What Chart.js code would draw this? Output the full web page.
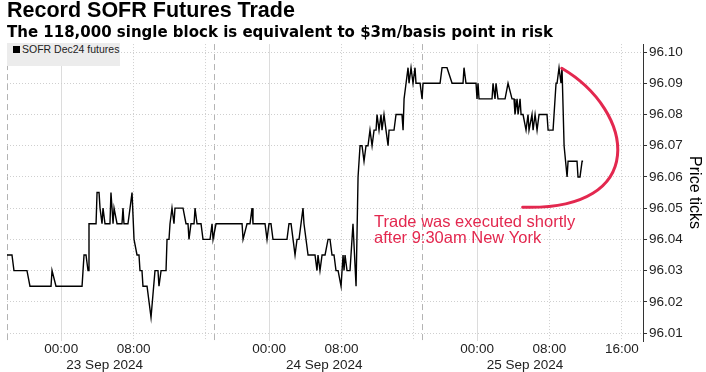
<!DOCTYPE html>
<html lang="en">
<head>
<meta charset="UTF-8">
<title>Record SOFR Futures Trade</title>
<script src="https://cdn.jsdelivr.net/npm/chart.js"></script>
<style>
    html, body { margin: 0; padding: 0; background: #fff; }
    #wrap { position: relative; width: 706px; height: 372px; }
    #legend {
        position: absolute; left: 7px; top: 43px; width: 113px; height: 23px;
        background: #ececec; color: #222; line-height: 23px;
        font: 10.5px "Liberation Sans", Arial, sans-serif;
    }
    #legend .box { display: inline-block; width: 7px; height: 7px; background: #000; margin: 0 2px 0 6px; }
</style>
</head>
<body>
<div id="wrap">
    <canvas id="chart" width="706" height="372"></canvas>
    <div id="legend"><span class="box"></span>SOFR Dec24 futures</div>
</div>
<script>
    // x = trading hours since 22 Sep 18:00 New York (daily 17:00-18:00 break removed)
    const hours = [
        0, 0.55, 0.77, 2.21, 2.54, 4.87, 4.98, 5.42, 8.30, 8.52, 8.74, 8.96, 9.07, 9.85, 9.96, 10.18,
        10.29, 10.51, 10.62, 10.84, 11.39, 11.50, 11.73, 11.84, 12.17, 12.72, 12.83, 12.94, 13.38, 13.61,
        13.83, 14.05, 14.38, 14.60, 14.71, 14.93, 15.04, 15.49, 15.93, 16.37, 16.70, 16.81, 17.04, 17.59,
        17.70, 17.92, 18.03, 18.25, 18.47, 18.58, 19.47, 19.80, 20.02, 20.13, 20.35, 20.69, 20.80, 21.02,
        21.46, 21.68, 22.46, 22.68, 22.79, 23.12,
        26.00, 26.11, 26.55, 26.88, 27.10, 27.21, 28.54, 28.76, 28.98, 29.20, 29.42, 30.97, 31.19, 31.42,
        31.64, 31.86, 32.08, 32.30, 32.74, 32.85, 33.30, 34.07, 34.29, 34.40, 34.62, 34.85, 35.18, 35.51,
        35.73, 35.95, 36.17, 36.39, 36.62, 36.95, 37.17, 37.28, 37.39, 37.61, 37.94, 38.27, 38.61, 38.83,
        39.05, 39.27, 39.49, 39.71, 39.93, 40.15, 40.38, 40.60, 40.82, 40.93, 41.15, 41.37, 41.48, 41.70,
        41.92, 42.15, 42.26, 42.81, 43.03, 43.69, 43.81, 43.92, 44.14, 44.36, 44.47, 44.69, 44.91, 45.13,
        45.24, 45.69, 45.91,
        46.02, 47.90, 48.12, 48.67, 49.23, 50.44, 50.55, 50.77, 51.88, 51.99, 52.10, 52.21, 53.65, 53.76,
        53.98, 54.09, 54.31, 55.09, 55.42, 55.86, 56.08, 56.19, 56.42, 56.53, 56.75, 56.86, 57.08, 57.41,
        57.63, 57.74, 58.07, 58.19, 58.41, 58.63, 58.85, 59.73, 59.85, 60.40, 60.73, 60.84, 61.06, 61.28,
        61.39, 61.62, 61.95, 62.06, 63.05, 63.16, 63.38, 63.61, 63.72
    ];
    const prices = [
        96.035, 96.035, 96.03, 96.03, 96.025, 96.025, 96.03, 96.025, 96.025, 96.035, 96.035, 96.03, 96.045, 96.045, 96.055, 96.055,
        96.05, 96.045, 96.05, 96.045, 96.045, 96.055, 96.045, 96.05, 96.045, 96.045, 96.05, 96.045, 96.045, 96.05,
        96.055, 96.04, 96.035, 96.035, 96.03, 96.03, 96.025, 96.025, 96.015, 96.03, 96.03, 96.025, 96.03, 96.03,
        96.04, 96.04, 96.045, 96.05, 96.045, 96.05, 96.05, 96.045, 96.045, 96.04, 96.045, 96.045, 96.05, 96.045,
        96.045, 96.04, 96.04, 96.045, 96.04, 96.045,
        96.045, 96.04, 96.045, 96.045, 96.05, 96.045, 96.045, 96.04, 96.045, 96.045, 96.04, 96.04, 96.045, 96.045,
        96.04, 96.035, 96.04, 96.04, 96.05, 96.045, 96.035, 96.035, 96.03, 96.035, 96.03, 96.035, 96.035, 96.04,
        96.04, 96.035, 96.035, 96.03, 96.03, 96.025, 96.035, 96.03, 96.035, 96.03, 96.03, 96.045, 96.025, 96.06,
        96.07, 96.07, 96.065, 96.07, 96.07, 96.075, 96.07, 96.075, 96.075, 96.08, 96.075, 96.08, 96.075, 96.08,
        96.075, 96.07, 96.075, 96.075, 96.08, 96.08, 96.075, 96.085, 96.09, 96.095, 96.09, 96.095, 96.09, 96.095,
        96.09, 96.09, 96.085,
        96.09, 96.09, 96.095, 96.095, 96.09, 96.09, 96.095, 96.09, 96.09, 96.085, 96.09, 96.085, 96.085, 96.09,
        96.085, 96.09, 96.085, 96.085, 96.09, 96.085, 96.085, 96.08, 96.085, 96.08, 96.085, 96.08, 96.08, 96.075,
        96.08, 96.075, 96.08, 96.075, 96.08, 96.075, 96.08, 96.08, 96.075, 96.075, 96.09, 96.09, 96.095, 96.09,
        96.095, 96.07, 96.06, 96.065, 96.065, 96.06, 96.06, 96.065, 96.065
    ];

    // axes
    const tickHours = [0, 6, 14, 22, 23, 29, 37, 45, 46, 52, 60, 68];
    const tickLabels = ['', '00:00', '08:00', '', '', '00:00', '08:00', '', '', '00:00', '08:00', '16:00'];
    const sessionBreaks = [0, 23, 46];
    const dateHours = [10.8, 35.1, 57.3];
    const dateLabels = ['23 Sep 2024', '24 Sep 2024', '25 Sep 2024'];
    const priceTicks = [96.01, 96.015, 96.02, 96.025, 96.03, 96.035, 96.04, 96.045, 96.05, 96.055,
                        96.06, 96.065, 96.07, 96.075, 96.08, 96.085, 96.09, 96.095, 96.10];

    const RED = '#e3284f';
    Chart.defaults.font.family = '"Liberation Sans", Arial, sans-serif';

    function gridKind(value) {
        if (sessionBreaks.includes(value)) return 'break';
        if (tickLabels[tickHours.indexOf(value)] === '00:00') return 'midnight';
        return 'other';
    }

    // red bracket and note round the trade
    const callout = {
        id: 'callout',
        afterDatasetsDraw(chart) {
            const {ctx, scales: {x, y}} = chart;
            ctx.save();
            ctx.strokeStyle = RED;
            ctx.lineWidth = 3;
            ctx.lineCap = 'round';
            ctx.beginPath();
            ctx.moveTo(x.getPixelForValue(61.36), y.getPixelForValue(96.0948));
            ctx.bezierCurveTo(
                x.getPixelForValue(69.47), y.getPixelForValue(96.0811),
                x.getPixelForValue(71.13), y.getPixelForValue(96.0490),
                x.getPixelForValue(57.04), y.getPixelForValue(96.0503));
            ctx.stroke();
            ctx.fillStyle = RED;
            ctx.font = '16.5px "Liberation Sans", Arial, sans-serif';
            ctx.textBaseline = 'alphabetic';
            ctx.fillText('Trade was executed shortly', x.getPixelForValue(40.6), y.getPixelForValue(96.0439));
            ctx.fillText('after 9:30am New York', x.getPixelForValue(40.6), y.getPixelForValue(96.0389));
            ctx.restore();
        }
    };

    new Chart(document.getElementById('chart'), {
        type: 'line',
        data: {
            datasets: [{
                label: 'SOFR Dec24 futures',
                data: hours.map((h, i) => ({x: h, y: prices[i]})),
                borderColor: '#000',
                borderWidth: 1.4,
                pointRadius: 0,
                tension: 0
            }]
        },
        options: {
            responsive: false,
            animation: false,
            layout: {padding: {left: 7, right: 2, top: 0, bottom: 0}},
            plugins: {
                legend: {display: false},
                tooltip: {enabled: false},
                title: {
                    display: true,
                    text: 'Record SOFR Futures Trade',
                    align: 'start',
                    color: '#000',
                    font: {size: 21.5, weight: 'bold', lineHeight: 1.05},
                    padding: {top: 0, bottom: 2}
                },
                subtitle: {
                    display: true,
                    text: 'The 118,000 single block is equivalent to $3m/basis point in risk',
                    align: 'start',
                    color: '#000',
                    font: {family: '"DejaVu Sans", sans-serif', size: 15, weight: 'bold', lineHeight: 1.1},
                    padding: {top: 0, bottom: 3}
                }
            },
            scales: {
                x: {
                    type: 'linear',
                    min: 0,
                    max: 70.35,
                    afterBuildTicks: s => { s.ticks = tickHours.map(v => ({value: v})); },
                    ticks: {
                        autoSkip: false,
                        maxRotation: 0,
                        padding: 2,
                        color: '#222',
                        font: {size: 13.5, lineHeight: 1},
                        callback: (v, i) => tickLabels[i]
                    },
                    grid: {
                        drawTicks: false,
                        lineWidth: 1,
                        color: c => {
                            const k = gridKind(c.tick.value);
                            return k === 'break' ? '#b4b4b4' : k === 'midnight' ? '#dcdcdc' : '#cfcfcf';
                        }
                    },
                    border: {
                        display: false,
                        dash: c => {
                            const k = gridKind(c.tick.value);
                            return k === 'break' ? [6, 4] : k === 'midnight' ? [] : [1, 2];
                        }
                    }
                },
                x2: {
                    type: 'linear',
                    position: 'bottom',
                    min: 0,
                    max: 70.35,
                    afterBuildTicks: s => { s.ticks = dateHours.map(v => ({value: v})); },
                    ticks: {
                        autoSkip: false,
                        maxRotation: 0,
                        padding: 0,
                        color: '#222',
                        font: {size: 13.5, lineHeight: 1},
                        callback: (v, i) => dateLabels[i]
                    },
                    grid: {display: false, drawTicks: false},
                    border: {display: false}
                },
                y: {
                    position: 'right',
                    min: 96.00744,
                    max: 96.10256,
                    afterBuildTicks: s => { s.ticks = priceTicks.map(v => ({value: v})); },
                    ticks: {
                        padding: 2,
                        color: '#222',
                        font: {size: 13.5},
                        callback: (v, i) => i % 2 === 0 ? priceTicks[i].toFixed(2) : ''
                    },
                    grid: {
                        tickLength: 4,
                        tickColor: '#333',
                        color: c => c.index % 2 === 0 ? '#cfcfcf' : 'rgba(0,0,0,0)'
                    },
                    border: {display: true, color: '#333', width: 1, dash: [1, 2]},
                    title: {
                        display: true,
                        text: 'Price ticks',
                        color: '#000',
                        font: {size: 16},
                        padding: {top: 0, bottom: 0}
                    }
                }
            }
        },
        plugins: [callout]
    });
</script>
</body>
</html>
